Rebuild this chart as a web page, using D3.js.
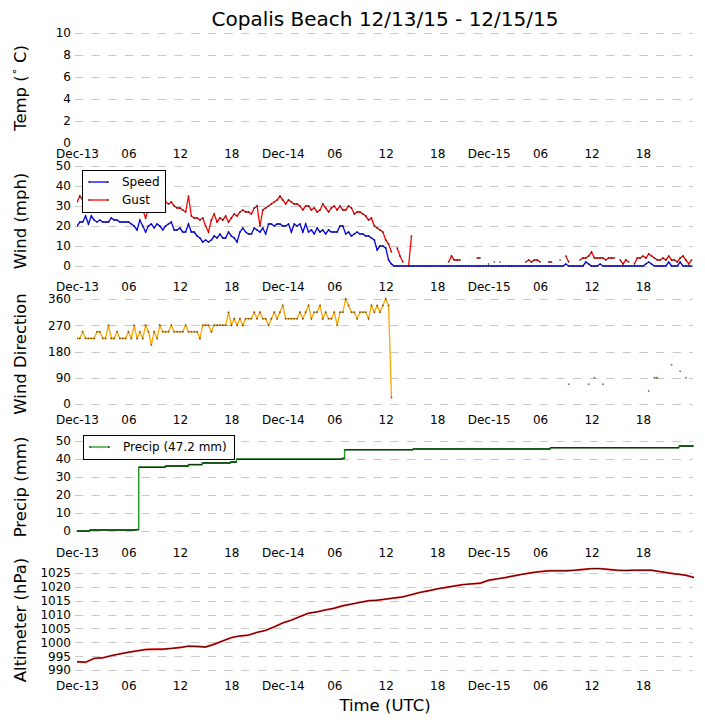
<!DOCTYPE html>
<html>
<head>
<meta charset="utf-8">
<script src="https://cdn.jsdelivr.net/npm/d3@7"></script>
<style>
  body { margin: 0; background: #fff; }
  text { font-family: "DejaVu Sans", sans-serif; }
</style>
</head>
<body>
<svg id="chart" width="705" height="725"></svg>
<script>
const N = null;

// observations every 20 minutes from 2015-12-13 00:00 UTC
const obsStart = Date.UTC(2015, 11, 13, 0, 0);
const obsStepMinutes = 20;

const windSpeed = [
  20,22,22,25,21,25,23,22,23,22, 22,22,24,23,23,22,22,22,22,21,
  20,18,23,20,17,20,21,19,21,20, 18,20,21,22,18,18,19,17,17,21,
  17,17,15,14,12,13,12,13,15,14, 16,14,14,17,15,14,12,17,19,17,
  16,16,19,18,17,19,16,21,21,20, 21,21,20,20,21,17,21,20,21,17,
  21,17,18,16,19,17,18,16,18,17, 17,17,20,20,16,17,15,16,17,16,
  16,15,15,14,13,8,10,10,9,3, 1,0,0,0,0,0,0,0,0,0,
  0,0,0,0,0,0,0,0,0,0, 0,0,0,0,0,0,0,0,0,0,
  0,0,0,0,0,0,0,0,0,0, 0,0,0,0,0,0,0,0,0,0,
  0,0,0,0,0,0,0,0,0,0, 0,1,0,0,0,0,0,0,2,1,
  0,0,0,1,0,0,0,0,0,0, 0,0,0,0,0,0,0,0,0,1,
  2,1,0,0,0,0,0,2,0,0, 0,2,0,0,0,0
];

const windGust = [
  32,35,33,32,31,33,32,31,32,31, 32,33,32,31,32,31,30,31,32,30,
  31,29,30,28,24,29,31,30,32,31, 32,32,31,32,30,29,29,28,27,35,
  25,24,24,23,24,20,17,23,26,22, 24,23,25,22,24,26,25,27,28,27,
  27,26,29,30,20,28,29,30,31,32, 33,35,33,31,33,32,31,31,30,28,
  30,30,28,29,27,28,31,29,27,29, 30,28,30,28,28,30,29,26,27,27,
  26,25,23,24,20,19,18,17,13,11, 7,N,9,5,2,N,0,15,N,N,
  N,N,N,N,N,N,N,N,N,N, 2,5,3,3,3,N,N,N,N,N,
  4,4,N,N,1,N,2,N,2,N, N,N,N,N,N,N,N,2,3,2,
  3,3,2,N,N,2,2,N,N,3, N,5,2,N,N,N,3,4,4,5,
  7,4,4,4,4,3,4,4,4,N, 3,1,3,2,N,1,4,4,5,4,
  6,5,4,3,3,4,3,5,3,3, 2,4,5,3,1,3
];

const windDirEarly = [
  225,225,247.5,225,225,225,225,247.5,247.5,225,
  225,270,225,225,247.5,225,225,225,247.5,225,
  270,225,247.5,225,270,247.5,202.5,247.5,225,270,
  247.5,247.5,247.5,270,247.5,247.5,247.5,247.5,270,247.5,
  247.5,247.5,247.5,225,270,270,270,247.5,270,270,
  270,270,270,315,270,292.5,270,292.5,270,292.5,
  292.5,292.5,315,292.5,315,292.5,292.5,270,292.5,315,
  292.5,315,337.5,292.5,292.5,292.5,292.5,292.5,315,292.5,
  315,337.5,292.5,315,315,337.5,292.5,315,292.5,292.5,
  315,270,315,315,360,337.5,315,315,292.5,315,
  315,315,292.5,337.5,315,337.5,315,337.5,360,337.5,22.5
];
// scattered later reports (observation index, degrees)
const windDirLateIndex = [172, 179, 181, 184, 200, 202, 203, 208, 211, 213];
const windDirLateValue = [67.5, 67.5, 90, 67.5, 45, 90, 90, 135, 112.5, 90];

// cumulative precip, breakpoints (hours since start, mm)
const precipHours  = [0, 1.5, 6.9, 7.2, 10.3, 13.0, 14.6, 17.9, 18.6, 30.9, 31.2, 39.2, 55.2, 70.2, 71.9];
const precipValues = [0.0, 0.6, 0.8, 35.4, 36.1, 36.9, 37.8, 38.3, 39.9, 40.3, 45.2, 45.6, 46.3, 47.2, 47.2];

// hourly altimeter (hPa)
const altimeter = [
  993.0, 992.8, 994.2, 994.4, 995.2, 995.8, 996.4, 996.9, 997.4, 997.5,
  997.5, 997.8, 998.1, 998.6, 998.5, 998.3, 999.3, 1000.5, 1001.7, 1002.3,
  1002.6, 1003.6, 1004.3, 1005.6, 1007.0, 1008.0, 1009.3, 1010.5, 1011.0, 1011.7,
  1012.3, 1013.2, 1013.8, 1014.4, 1015.0, 1015.2, 1015.6, 1016.0, 1016.4, 1017.2,
  1018.0, 1018.6, 1019.3, 1019.8, 1020.3, 1020.8, 1021.1, 1021.3, 1022.4, 1022.9,
  1023.4, 1024.0, 1024.6, 1025.1, 1025.5, 1025.8, 1025.8, 1025.8, 1026.0, 1026.3,
  1026.6, 1026.6, 1026.3, 1026.0, 1025.9, 1026.0, 1026.0, 1026.0, 1025.5, 1025.0,
  1024.6, 1024.2, 1023.3
];

const tempTicks = [0, 2, 4, 6, 8, 10];
const windTicks = [0, 10, 20, 30, 40, 50];
const dirTicks = [0, 90, 180, 270, 360];
const precipTicks = [0, 10, 20, 30, 40, 50];
const altTicks = [990, 995, 1000, 1005, 1010, 1015, 1020, 1025];

const titleText = "Copalis Beach 12/13/15 - 12/15/15";
const precipTotal = 47.2;

// ---- layout
const svg = d3.select("#chart");
const left = 77, right = 693, panelH = 110;
const tops = [33, 166, 299, 432, 565];
const hour = 3600 * 1000;
const t = i => new Date(obsStart + i * obsStepMinutes * 60000);

const x = d3.scaleTime()
  .domain([new Date(obsStart), new Date(obsStart + 71.83 * hour)])
  .range([left, right]);

const xTicks = d3.utcHour.every(6).range(x.domain()[0], x.domain()[1]);
const fmtDay = d3.utcFormat("%b-%d");
const fmtHour = d3.utcFormat("%H");
const xFormat = d => d.getUTCHours() === 0 ? fmtDay(d) : fmtHour(d);

function panel(k, domain, ticks, label, gridTicks) {
  const top = tops[k];
  const y = d3.scaleLinear().domain(domain).range([top + panelH, top]);
  const g = svg.append("g");

  g.append("clipPath").attr("id", "clip" + k)
    .append("rect").attr("x", left).attr("y", top - 3)
    .attr("width", right - left + 1).attr("height", panelH + 6);

  g.selectAll("line.grid").data(gridTicks || ticks).join("line")
    .attr("x1", left - 2).attr("x2", right)
    .attr("y1", d => Math.round(y(d)) + 0.5).attr("y2", d => Math.round(y(d)) + 0.5)
    .attr("stroke", "#c8c8c8").attr("stroke-width", 1)
    .attr("stroke-dasharray", "8.3,8.3");

  g.append("g").attr("transform", `translate(${left},0)`)
    .call(d3.axisLeft(y).tickValues(ticks).tickFormat(d3.format("d")).tickSize(0).tickPadding(6))
    .call(a => a.select(".domain").remove())
    .attr("font-size", 12).attr("font-family", "DejaVu Sans");

  g.append("g").attr("transform", `translate(0,${top + panelH})`)
    .call(d3.axisBottom(x).tickValues(xTicks).tickFormat(xFormat).tickSize(0).tickPadding(6))
    .call(a => a.select(".domain").remove())
    .attr("font-size", 12).attr("font-family", "DejaVu Sans");

  const lab = g.append("text")
    .attr("transform", `translate(20,${top + panelH / 2}) rotate(-90)`)
    .attr("text-anchor", "middle").attr("dominant-baseline", "central")
    .attr("font-size", 16.5);
  if (Array.isArray(label)) {
    lab.append("tspan").text(label[0]);
    lab.append("tspan").attr("font-size", 11).attr("dy", -6).text(label[1]);
    lab.append("tspan").attr("dy", 6).text(label[2]);
  } else {
    lab.text(label);
  }

  const plot = g.append("g").attr("clip-path", `url(#clip${k})`);
  return { y, plot };
}

function series(plot, y, values, color, width) {
  const pts = values.map((v, i) => [t(i), v]);
  plot.append("path").datum(pts)
    .attr("fill", "none").attr("stroke", color).attr("stroke-width", width)
    .attr("d", d3.line().defined(d => d[1] != null).x(d => x(d[0])).y(d => y(d[1])));
  plot.selectAll(null).data(pts.filter(d => d[1] != null)).join("circle")
    .attr("cx", d => x(d[0])).attr("cy", d => y(d[1])).attr("r", 1)
    .attr("fill", "#000").attr("fill-opacity", 0.5);
}

// title
svg.append("text").attr("x", (left + right) / 2).attr("y", 26)
  .attr("text-anchor", "middle").attr("font-size", 20).text(titleText);

// Temp
panel(0, [0, 10], tempTicks, ["Temp (", "\u2218", " C)"], tempTicks.filter(d => d > 0));

// Wind
const wind = panel(1, [-5, 50], windTicks, "Wind (mph)");
series(wind.plot, wind.y, windGust, "#ff0000", 1.3);
series(wind.plot, wind.y, windSpeed, "#0000ff", 1.3);

// Wind direction
const windDir = windDirEarly.concat(d3.range(windSpeed.length - windDirEarly.length).map(() => null));
windDirLateIndex.forEach((idx, j) => { windDir[idx] = windDirLateValue[j]; });
const dir = panel(2, [-17.1, 360], dirTicks, "Wind Direction");
series(dir.plot, dir.y, windDir, "#ffa500", 1.3);

// Precip
const pr = panel(3, [-6.1, 55], precipTicks, "Precip (mm)");
const prPts = precipHours.map((h, i) => [new Date(obsStart + h * hour), precipValues[i]]);
pr.plot.append("path").datum(prPts)
  .attr("fill", "none").attr("stroke", "#1e9a1e").attr("stroke-width", 1.4)
  .attr("d", d3.line().curve(d3.curveStepAfter).x(d => x(d[0])).y(d => pr.y(d[1])));
pr.plot.selectAll(null).data(prPts.slice(0, -1)).join("line")
  .attr("x1", d => x(d[0])).attr("x2", (d, i) => x(prPts[i + 1][0]))
  .attr("y1", d => pr.y(d[1])).attr("y2", d => pr.y(d[1]))
  .attr("stroke", "#0b3a0b").attr("stroke-width", 1.5);

// Altimeter
const alt = panel(4, [988.2, 1027.9], altTicks, "Altimeter (hPa)");
const altPts = altimeter.map((v, i) => [new Date(obsStart + i * hour), v]);
const altLine = d3.line().x(d => x(d[0])).y(d => alt.y(d[1]));
alt.plot.append("path").datum(altPts).attr("fill", "none")
  .attr("stroke", "#ff3030").attr("stroke-width", 1.9).attr("d", altLine);
alt.plot.append("path").datum(altPts).attr("fill", "none")
  .attr("stroke", "#500000").attr("stroke-width", 1).attr("d", altLine);

// x label
svg.append("text").attr("x", (left + right) / 2).attr("y", 711)
  .attr("text-anchor", "middle").attr("font-size", 16.5).text("Time (UTC)");

// legends
function legend(x0, y0, w, items) {
  const g = svg.append("g");
  g.append("rect").attr("x", x0 + 0.5).attr("y", y0 + 0.5)
    .attr("width", w).attr("height", items.length * 18 + 6)
    .attr("fill", "#fff").attr("stroke", "#000").attr("stroke-width", 1);
  items.forEach((it, i) => {
    const yy = y0 + 12 + i * 18;
    g.append("line").attr("x1", x0 + 7).attr("x2", x0 + 26).attr("y1", yy).attr("y2", yy)
      .attr("stroke", it.color).attr("stroke-width", 1.3);
    g.selectAll(null).data([x0 + 7, x0 + 26]).join("circle")
      .attr("cx", d => d).attr("cy", yy).attr("r", 1.1).attr("fill", "#000").attr("fill-opacity", 0.6);
    g.append("text").attr("x", x0 + 40).attr("y", yy).attr("dy", "0.36em")
      .attr("font-size", 12).text(it.name);
  });
}
legend(82, 170, 83, [{ name: "Speed", color: "#0000ff" }, { name: "Gust", color: "#ff0000" }]);
legend(83, 435, 151, [{ name: `Precip (${precipTotal} mm)`, color: "#1e9a1e" }]);
</script>
</body>
</html>
